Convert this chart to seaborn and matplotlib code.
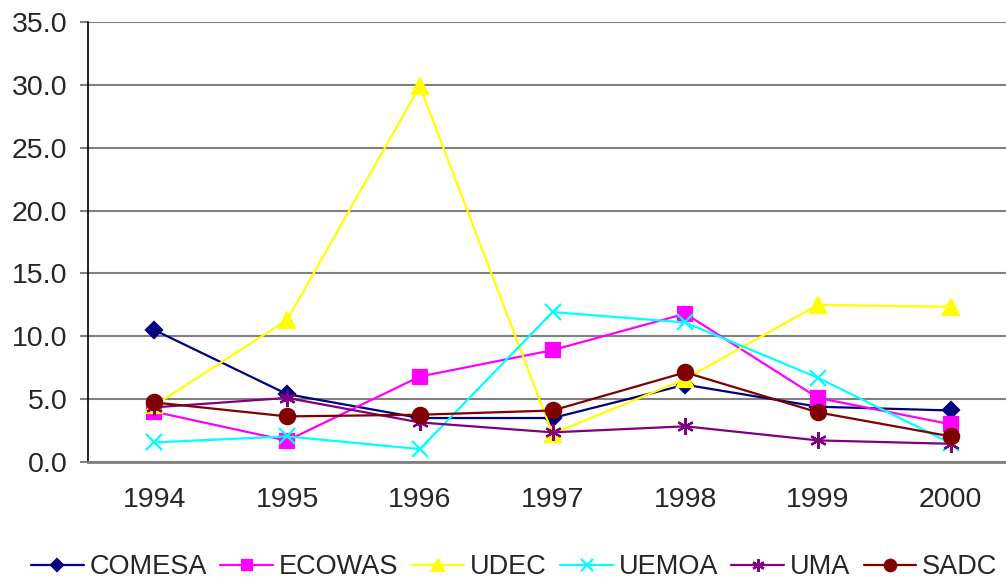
import pandas as pd
import matplotlib.pyplot as plt
import seaborn as sns
from matplotlib.ticker import FixedLocator

# valores
anos = ['1994', '1995', '1996', '1997', '1998', '1999', '2000']
comesa = [10.5, 5.4, 3.5, 3.5, 6.15, 4.4, 4.1]
ecowas = [4.0, 1.7, 6.8, 8.9, 11.8, 5.1, 3.0]
udec = [4.5, 11.3, 29.9, 2.25, 6.6, 12.5, 12.35]
uemoa = [1.56, 2.04, 1.03, 11.93, 11.1, 6.7, 1.5]
uma = [4.35, 5.1, 3.15, 2.36, 2.84, 1.72, 1.45]
sadc = [4.74, 3.63, 3.76, 4.1, 7.13, 3.95, 2.04]

series = ['COMESA', 'ECOWAS', 'UDEC', 'UEMOA', 'UMA', 'SADC']
valores = [comesa, ecowas, udec, uemoa, uma, sadc]
cores = ['#000080', '#FF00FF', '#FFFF00', '#00FFFF', '#800080', '#800000']
marcadores = ['D', 's', '^', 'x', (6, 2, 0), 'o']
tamanhos = [8.5, 9.5, 11, 11, 12, 11]

sns.set_style('white')
plt.rcParams['font.family'] = ['Liberation Sans', 'DejaVu Sans']

fig = plt.figure(figsize=(10.06, 5.83), dpi=100)
ax = fig.add_axes([0.0875, 0.2075, 0.9235, 0.7547])

for nome, vals, cor, mk, ms in zip(series, valores, cores, marcadores, tamanhos):
    df = pd.DataFrame({'pos': range(len(anos)), 'valor': vals})
    sns.lineplot(data=df, x='pos', y='valor', ax=ax, color=cor, marker=mk,
                 markersize=ms, markeredgecolor=cor, markeredgewidth=1.6,
                 linewidth=1.6, label=nome)

ax.set_xlim(-0.5, len(anos) - 0.5)
ax.set_ylim(0, 35)
ax.set_yticks([0, 5, 10, 15, 20, 25, 30, 35])
ax.set_yticklabels([f'{v:.1f}' for v in ax.get_yticks()], fontsize=20.5)
ax.set_xticks(range(len(anos)))
ax.set_xticklabels(anos, fontsize=20.5)
ax.xaxis.set_minor_locator(FixedLocator([i - 0.5 for i in range(1, len(anos) + 1)]))
ax.tick_params(axis='x', which='major', length=0, pad=18)
ax.tick_params(axis='x', which='minor', length=6, width=1, color='black', direction='out')
ax.tick_params(axis='y', length=6, width=1.5, color='#808080', direction='out', pad=9, left=True)
ax.grid(axis='y', color='#808080', linewidth=1.5)
ax.set_axisbelow(True)
ax.set_xlabel('')
ax.set_ylabel('')

for s in ['top', 'right']:
    ax.spines[s].set_visible(False)
ax.spines['left'].set_color('black')
ax.spines['left'].set_linewidth(1.2)
ax.spines['bottom'].set_color('#808080')
ax.spines['bottom'].set_linewidth(2)

ax.get_legend().remove()
handles, labels = ax.get_legend_handles_labels()
fig.legend(handles, labels, loc='center', bbox_to_anchor=(0.511, 0.027), ncol=6,
           frameon=False, fontsize=19.5, handlelength=1.95, handletextpad=0.2,
           columnspacing=0.5, borderaxespad=0, markerscale=0.75)

fig.savefig('out.png', dpi=100)
